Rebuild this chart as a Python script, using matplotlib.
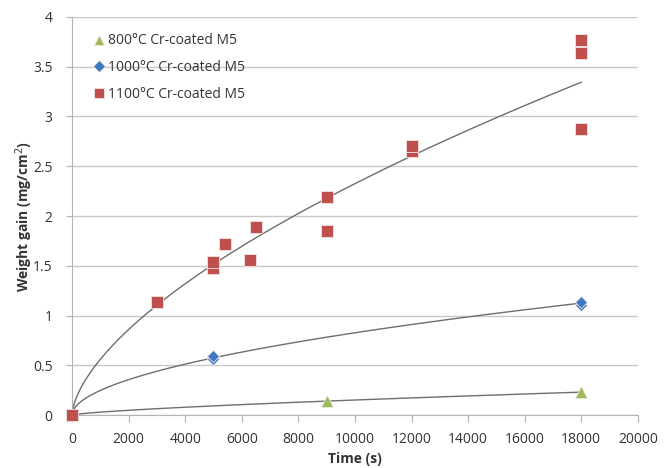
import numpy as np
import matplotlib
matplotlib.use("Agg")
import matplotlib.pyplot as plt

plt.rcParams['font.family'] = ['Open Sans', 'DejaVu Sans']

# measured weight gain (mg/cm2) vs. time (s)
t_800 = [0, 9000, 18000]
w_800 = [0, 0.14, 0.23]

t_1000 = [0, 5000, 5000, 18000, 18000]
w_1000 = [0, 0.56, 0.59, 1.11, 1.14]

t_1100 = [0, 3000, 5000, 5000, 5400, 6300, 6500, 9000, 9000,
          12000, 12000, 18000, 18000, 18000]
w_1100 = [0, 1.14, 1.48, 1.54, 1.72, 1.56, 1.89, 2.19, 1.85,
          2.65, 2.70, 2.87, 3.64, 3.77]

series = [
    ("800°C Cr-coated M5", t_800, w_800, "^", "#9BBB59", 8.5),
    ("1000°C Cr-coated M5", t_1000, w_1000, "D", "#3C78C3", 6.5),
    ("1100°C Cr-coated M5", t_1100, w_1100, "s", "#C0504D", 8),
]

fig = plt.figure(figsize=(6.7, 4.68), dpi=100)
ax = fig.add_axes([0.1075, 0.1132, 0.8445, 0.8505])

for label, t, w, m, c, ms in series:
    ax.plot(t, w, linestyle="none", marker=m, color=c, markersize=ms,
            markeredgecolor="#f2e4e4", markeredgewidth=0.6, label=label,
            zorder=3, clip_on=False)
    # power-law trendline fitted on the non-zero points
    t = np.array(t, float)
    w = np.array(w, float)
    ok = t > 0
    b, lna = np.polyfit(np.log(t[ok]), np.log(w[ok]), 1)
    tt = np.linspace(1, t.max(), 400)
    ax.plot(tt, np.exp(lna) * tt ** b, color="#6e6e6e", linewidth=1.0, zorder=2)

ax.set_xlim(0, 20000)
ax.set_ylim(0, 4)
ax.set_xticks(np.arange(0, 20001, 2000))
ax.set_yticks(np.arange(0, 4.01, 0.5))
ax.set_yticklabels(["0", "0.5", "1", "1.5", "2", "2.5", "3", "3.5", "4"])
ax.yaxis.grid(True, color="#c8c8c8", linewidth=1.0)
ax.set_axisbelow(True)

for s in ["top", "right"]:
    ax.spines[s].set_visible(False)
for s in ["left", "bottom"]:
    ax.spines[s].set_color("#b4b4b4")
ax.tick_params(axis="x", direction="out", length=5, color="#b4b4b4",
               labelsize=10, labelcolor="#333333", pad=7)
ax.tick_params(axis="y", direction="out", length=4, color="#b4b4b4",
               labelsize=10, labelcolor="#333333", pad=10)

ax.set_xlabel("Time (s)", fontsize=10, fontweight="bold", color="#333333")
ax.set_ylabel("Weight gain (mg/cm$^2$)", fontsize=10, fontweight="bold",
              color="#333333")
ax.yaxis.set_label_coords(-0.066, 0.5)

leg = ax.legend(loc="upper left", bbox_to_anchor=(0.01, 0.99), frameon=False,
                fontsize=10, handletextpad=0.1, handlelength=1.2,
                labelspacing=0.85, markerscale=0.9)
for txt in leg.get_texts():
    txt.set_color("#333333")

fig.savefig("out.png", dpi=100)
